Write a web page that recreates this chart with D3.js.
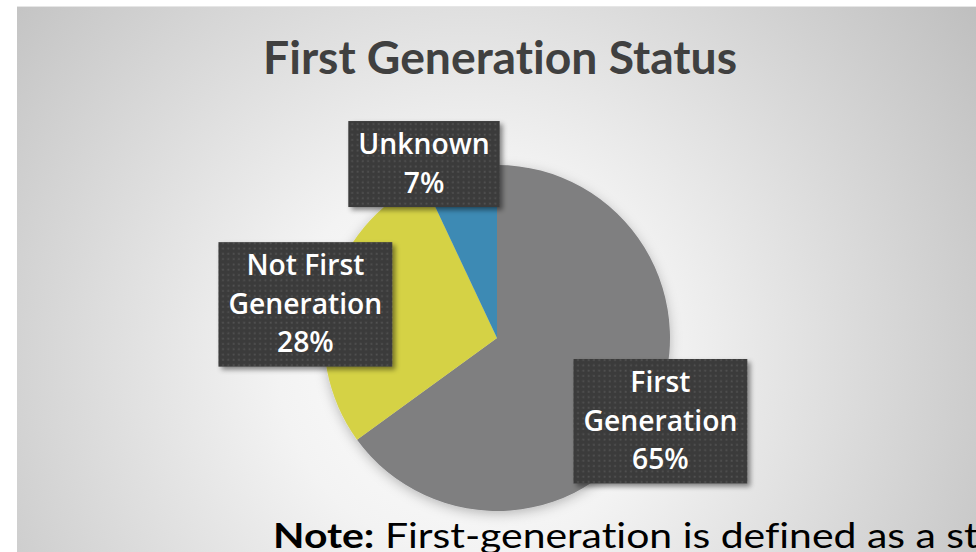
<!DOCTYPE html>
<html>
<head>
<meta charset="utf-8">
<script src="https://cdn.jsdelivr.net/npm/d3@7"></script>
<style>
  body { margin: 0; background: #fff; }
  svg { display: block; }
  text { font-variant-ligatures: none; font-feature-settings: "liga" 0; }
</style>
</head>
<body>
<div id="chart"></div>
<script>
// data
const categories = ['First Generation', 'Not First Generation', 'Unknown'];
const values = [65, 28, 7];
const labelLines = [['First', 'Generation', '65%'], ['Not First', 'Generation', '28%'], ['Unknown', '7%']];
const colors = ['#7f7f80', '#d5d244', '#3e8ab4'];

const W = 976, H = 552;
const cx = 497, cy = 338, r = 173;
// label nudges relative to the label arc (layout only)
const labelNudge = [[0, 0], [-14, 12], [-33, 5]];

const svg = d3.select('#chart').append('svg').attr('width', W).attr('height', H);
const defs = svg.append('defs');

// background gradient
const grad = defs.append('radialGradient').attr('id', 'bg')
	.attr('gradientUnits', 'userSpaceOnUse')
	.attr('cx', 470).attr('cy', 360).attr('r', 640);
grad.append('stop').attr('offset', 0).attr('stop-color', '#ffffff');
grad.append('stop').attr('offset', 0.3).attr('stop-color', '#f3f3f3');
grad.append('stop').attr('offset', 1).attr('stop-color', '#bcbcbc');

// dotted fill for label boxes
const pat = defs.append('pattern').attr('id', 'dots')
	.attr('patternUnits', 'userSpaceOnUse').attr('width', 5.3).attr('height', 5.3);
pat.append('rect').attr('width', 5.3).attr('height', 5.3).attr('fill', '#3b3b3b');
pat.append('rect').attr('x', 1.5).attr('y', 1.5).attr('width', 1.8).attr('height', 1.8).attr('fill', '#525252');

const pieShadow = defs.append('filter').attr('id', 'pieShadow')
	.attr('x', '-20%').attr('y', '-20%').attr('width', '140%').attr('height', '140%');
pieShadow.append('feDropShadow').attr('dx', 0).attr('dy', 3).attr('stdDeviation', 6)
	.attr('flood-color', '#000').attr('flood-opacity', 0.25);

const boxShadow = defs.append('filter').attr('id', 'boxShadow')
	.attr('x', '-20%').attr('y', '-20%').attr('width', '140%').attr('height', '140%');
boxShadow.append('feDropShadow').attr('dx', 3).attr('dy', 3).attr('stdDeviation', 2.5)
	.attr('flood-color', '#000').attr('flood-opacity', 0.45);

// slide panel
svg.append('rect').attr('x', 17).attr('y', 7).attr('width', W).attr('height', H)
	.attr('fill', 'url(#bg)');
svg.append('line').attr('x1', 17).attr('x2', W).attr('y1', 6.5).attr('y2', 6.5)
	.attr('stroke', '#e6e6e6');

// title
svg.append('text')
	.attr('x', 500).attr('y', 74)
	.attr('text-anchor', 'middle')
	.attr('font-family', 'Lato, "Open Sans", sans-serif')
	.attr('font-weight', 700)
	.attr('font-size', 45)
	.attr('fill', '#404040')
	.attr('textLength', 474)
	.attr('lengthAdjust', 'spacingAndGlyphs')
	.text('First Generation Status');

// pie
const pie = d3.pie().sort(null).value((d) => d);
const arcs = pie(values);
const arc = d3.arc().innerRadius(0).outerRadius(r);
const labelArc = d3.arc().innerRadius(r * 1.06).outerRadius(r * 1.06);

const g = svg.append('g').attr('transform', 'translate(' + cx + ',' + cy + ')');
g.append('g').attr('filter', 'url(#pieShadow)')
	.selectAll('path')
	.data(arcs)
	.enter()
	.append('path')
	.attr('d', arc)
	.attr('fill', (d, i) => colors[i]);

// label font size fitted so "Generation" is ~154px wide
const probe = svg.append('text').attr('font-family', '"Open Sans", sans-serif')
	.attr('font-weight', 600).attr('font-size', 26).text('Generation');
const fs = 26 * 154 / probe.node().getComputedTextLength();
probe.remove();
const lineH = 38.5;

arcs.forEach((d, i) => {
	const c = labelArc.centroid(d);
	const bx = c[0] + labelNudge[i][0];
	const by = c[1] + labelNudge[i][1];
	const lines = labelLines[i];
	const lab = g.append('g').attr('transform', 'translate(' + bx + ',' + by + ')');
	const txt = lab.append('text')
		.attr('text-anchor', 'middle')
		.attr('font-family', '"Open Sans", sans-serif')
		.attr('font-weight', 600)
		.attr('font-size', fs)
		.attr('fill', '#fff');
	const boxH = lines.length * lineH + 9;
	lines.forEach((t, k) => {
		txt.append('tspan').attr('x', 0)
			.attr('y', -boxH / 2 + 33 + k * lineH)
			.text(t);
	});
	const tw = txt.node().getBBox().width;
	const boxW = Math.max(tw + 20, 150);
	lab.insert('rect', 'text')
		.attr('x', -boxW / 2).attr('y', -boxH / 2)
		.attr('width', boxW).attr('height', boxH)
		.attr('fill', 'url(#dots)')
		.attr('filter', 'url(#boxShadow)');
});

// note (runs off the slide edge, as in the original)
const noteX = 273, noteY = 548;
const note = svg.append('text')
	.attr('x', noteX).attr('y', noteY)
	.attr('font-family', 'Lato, "Open Sans", sans-serif')
	.attr('font-size', 35)
	.attr('fill', '#000');
note.append('tspan').attr('font-weight', 700).text('Note:');
note.append('tspan').text(' First-generation is defined as a student whose parents did not complete a degree.');
// condense to match the narrow original face
const np = svg.append('text').attr('font-family', 'Lato, "Open Sans", sans-serif').attr('font-size', 35);
np.append('tspan').attr('font-weight', 700).text('Note:');
np.append('tspan').text(' First-generation is defined as a ');
const sx = 663 / np.node().getComputedTextLength();
np.remove();
note.attr('transform', 'translate(' + noteX + ',0) scale(' + sx + ',1) translate(' + (-noteX) + ',0)');
</script>
</body>
</html>
